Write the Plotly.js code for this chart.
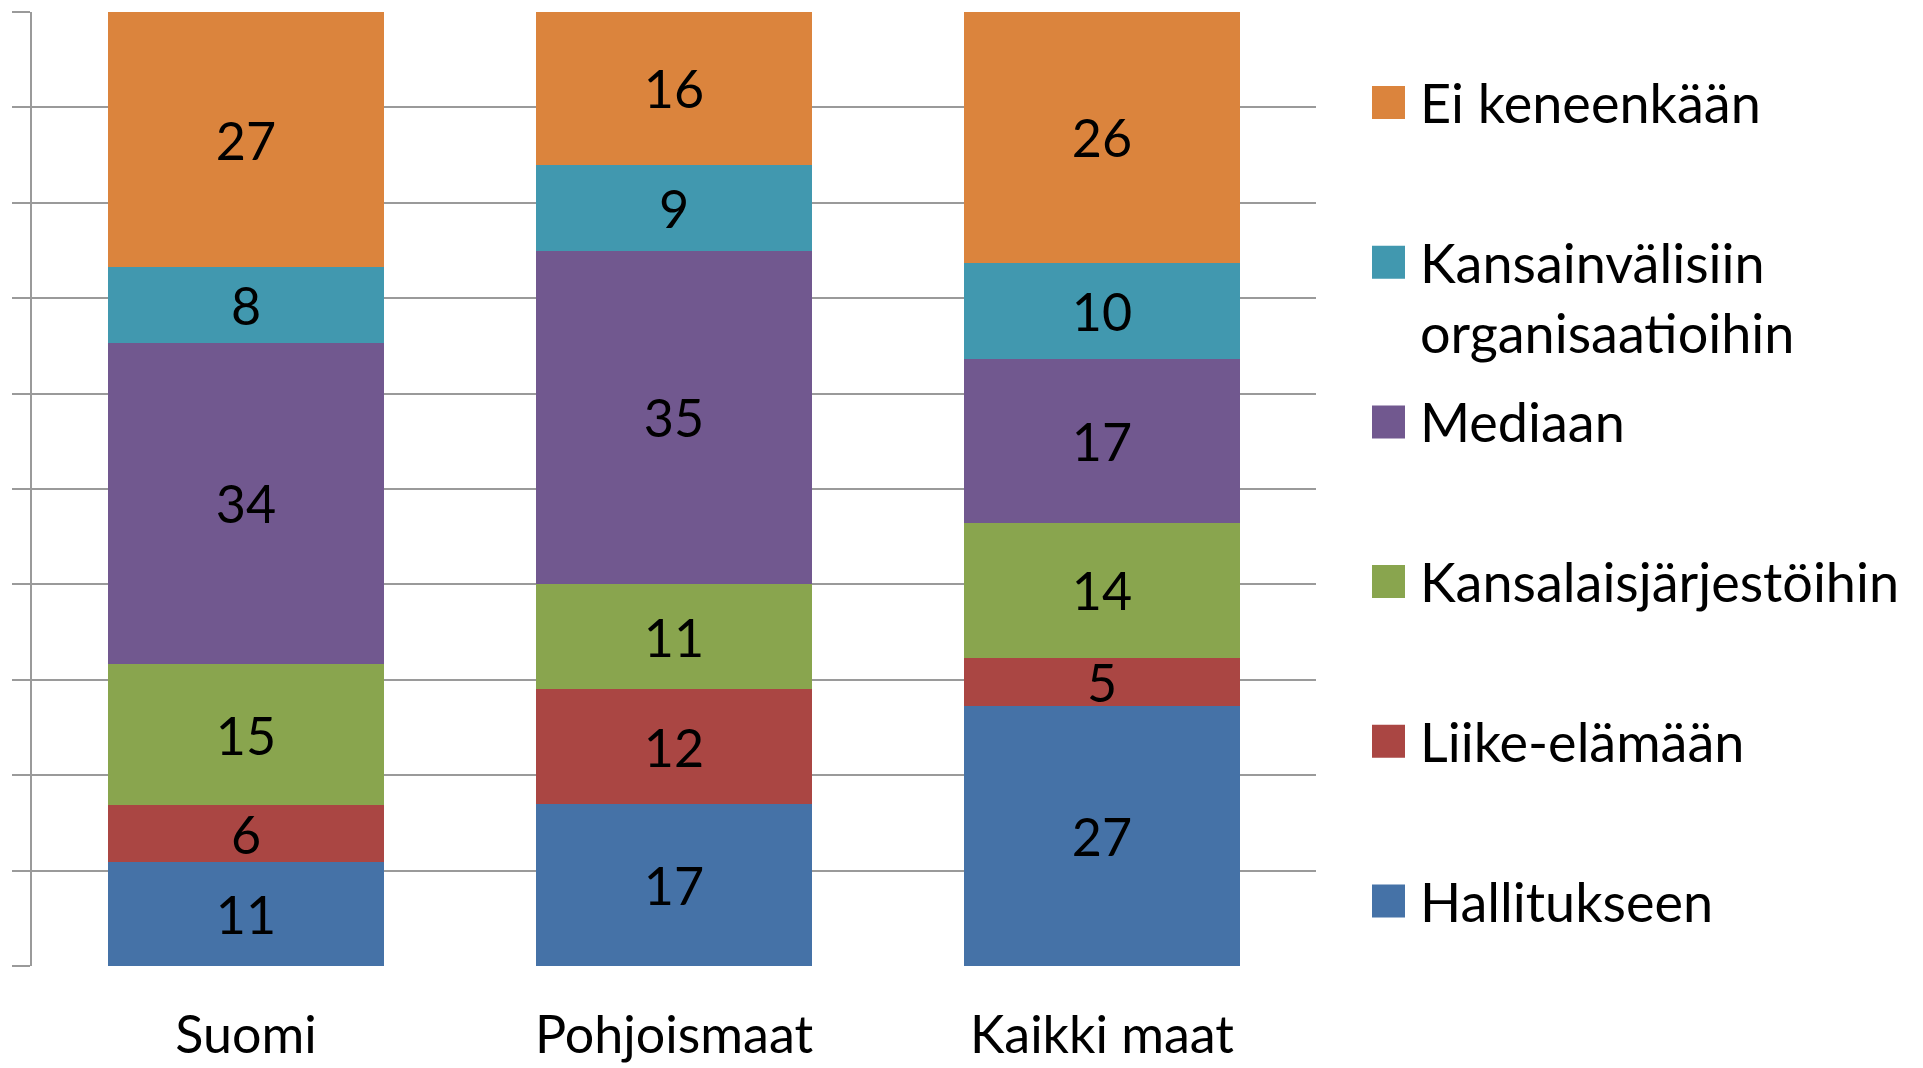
<!DOCTYPE html>
<html>
<head>
<meta charset="utf-8">
<script src="https://cdn.plot.ly/plotly-3.0.1.min.js"></script>
<style>
html, body { margin: 0; padding: 0; background: #fff; }
#chart { width: 1923px; height: 1068px; }
</style>
</head>
<body>
<div id="chart"></div>
<script>
// data
var categories = ['Suomi', 'Pohjoismaat', 'Kaikki maat'];
var seriesNames = ['Hallitukseen', 'Liike-elämään', 'Kansalaisjärjestöihin', 'Mediaan',
  'Kansainvälisiin<br>organisaatioihin', 'Ei keneenkään'];
var hallitukseen = [11, 17, 27];
var liikeElamaan = [6, 12, 5];
var kansalaisjarjestot = [15, 11, 14];
var mediaan = [34, 35, 17];
var kansainvaliset = [8, 9, 10];
var eiKeneenkaan = [27, 16, 26];
var seriesValues = [hallitukseen, liikeElamaan, kansalaisjarjestot, mediaan, kansainvaliset, eiKeneenkaan];
var colors = ['#4572A7', '#AA4643', '#89A54E', '#71588F', '#4198AF', '#DB843D'];

var FONT = 'Lato, "Open Sans", sans-serif';
var GRID = '#9a9a9a';

// plot area in pixels
var L = 32, R = 1316, T = 12, B = 966;
function paperX(px) { return (px - L) / (R - L); }
function paperY(py) { return (B - py) / (B - T); }

var data = seriesValues.map(function (vals, i) {
  return {
    type: 'bar',
    name: seriesNames[i],
    x: categories,
    y: vals,
    text: vals,
    texttemplate: '%{text}',
    textposition: 'inside',
    insidetextanchor: 'middle',
    textangle: 0,
    constraintext: 'none',
    textfont: { family: FONT, size: 52, color: '#000' },
    marker: { color: colors[i], line: { width: 0 } },
    showlegend: false
  };
});

// legend drawn by hand so the swatches can be as big as in the original
var shapes = [];
var annotations = [];
var legendTop = 102.5, legendStep = 159.7, legendFont = 54;
for (var k = 0; k < seriesNames.length; k++) {
  var i = seriesNames.length - 1 - k;
  var cy = legendTop + k * legendStep;
  shapes.push({
    type: 'rect', xref: 'paper', yref: 'paper',
    x0: paperX(1372), x1: paperX(1405),
    y0: paperY(cy + 16.5), y1: paperY(cy - 16.5),
    fillcolor: colors[i], line: { width: 0 }
  });
  var nLines = seriesNames[i].split('<br>').length;
  annotations.push({
    xref: 'paper', yref: 'paper',
    x: paperX(1418), xanchor: 'left',
    y: paperY(cy + (nLines - 1) * 0.5 * legendFont * 1.3), yanchor: 'middle',
    text: seriesNames[i], align: 'left', showarrow: false,
    font: { family: FONT, size: legendFont, color: '#000' }
  });
}

var layout = {
  barmode: 'stack',
  barnorm: 'percent',
  bargap: 0.356,
  width: 1923,
  height: 1068,
  margin: { l: L, r: 1923 - R, t: T, b: 1068 - B, pad: 0 },
  paper_bgcolor: '#fff',
  plot_bgcolor: '#fff',
  font: { family: FONT, color: '#000' },
  xaxis: {
    type: 'category',
    showgrid: false,
    zeroline: false,
    showline: false,
    ticks: '',
    ticklabelstandoff: 34,
    tickfont: { family: FONT, size: 52, color: '#000' },
    automargin: false
  },
  yaxis: {
    range: [0, 100],
    tick0: 0,
    dtick: 10,
    showticklabels: false,
    ticks: 'outside',
    ticklen: 18,
    tickwidth: 2,
    tickcolor: GRID,
    showgrid: true,
    gridcolor: GRID,
    gridwidth: 2,
    showline: true,
    linecolor: GRID,
    linewidth: 2,
    zeroline: false,
    automargin: false
  },
  shapes: shapes,
  annotations: annotations,
  showlegend: false
};

Plotly.newPlot('chart', data, layout, { displayModeBar: false, staticPlot: true });
</script>
</body>
</html>
